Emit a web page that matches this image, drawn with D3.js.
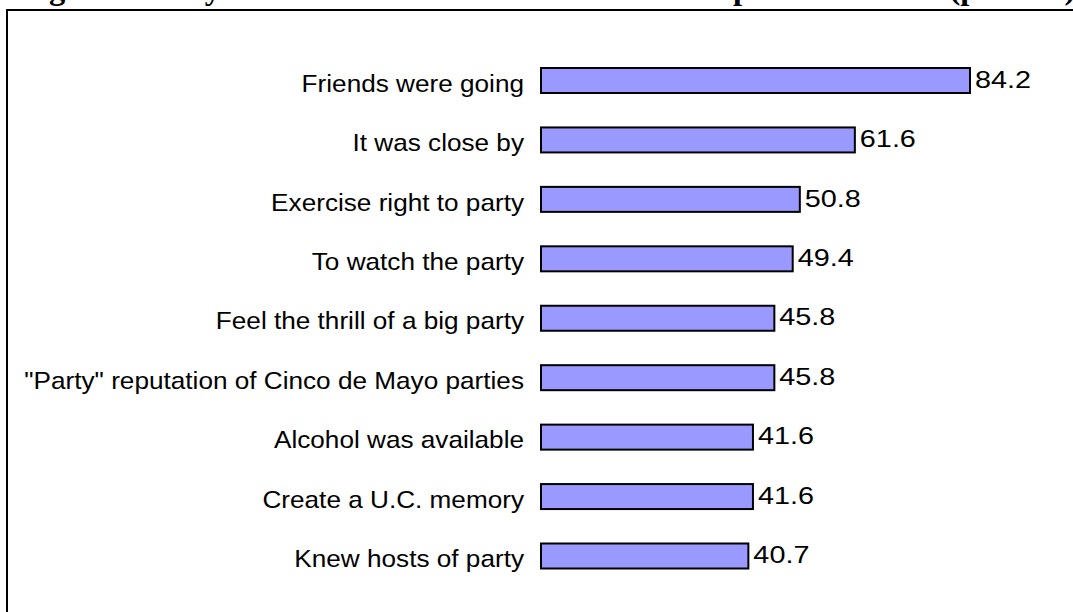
<!DOCTYPE html>
<html>
<head>
<meta charset="utf-8">
<script src="https://cdn.jsdelivr.net/npm/d3@7"></script>
<style>
html,body{margin:0;padding:0;background:#fff;}
svg{display:block;}
</style>
</head>
<body>
<svg id="chart" width="1073" height="612"></svg>
<script>
const titleText = "Figure 3: Why students decided to attend - Most important factors (percent)";
const categories = [
  "Friends were going",
  "It was close by",
  "Exercise right to party",
  "To watch the party",
  "Feel the thrill of a big party",
  "\"Party\" reputation of Cinco de Mayo parties",
  "Alcohol was available",
  "Create a U.C. memory",
  "Knew hosts of party"
];
const values = [84.2, 61.6, 50.8, 49.4, 45.8, 45.8, 41.6, 41.6, 40.7];
const valueLabels = ["84.2", "61.6", "50.8", "49.4", "45.8", "45.8", "41.6", "41.6", "40.7"];

const svg = d3.select("#chart");

// frame
svg.append("rect")
  .attr("x", 7).attr("y", 10)
  .attr("width", 1080).attr("height", 620)
  .attr("fill", "none").attr("stroke", "#000").attr("stroke-width", 2);

// clipped title (only its descenders show above the frame)
svg.append("text")
  .attr("x", 20).attr("y", -1.5)
  .attr("font-family", "'Liberation Serif', 'Times New Roman', serif")
  .attr("font-weight", "bold")
  .attr("font-size", 32.5)
  .attr("fill", "#000")
  .text(titleText);

const x = d3.scaleLinear().domain([0, 100]).range([541, 1050.5]);
const y = d3.scalePoint().domain(categories).range([80.5, 556]);
const barH = 25;

const g = svg.append("g");

g.selectAll("rect.bar").data(categories).join("rect")
  .attr("class", "bar")
  .attr("x", x(0))
  .attr("y", d => y(d) - barH / 2)
  .attr("width", (d, i) => x(values[i]) - x(0))
  .attr("height", barH)
  .attr("fill", "#9999ff")
  .attr("stroke", "#000")
  .attr("stroke-width", 2);

g.selectAll("text.val").data(categories).join("text")
  .attr("class", "val")
  .attr("transform", (d, i) => `translate(${x(values[i]) + 5},${y(d)}) scale(1.2,1)`)
  .attr("x", 0)
  .attr("y", 0)
  .attr("dy", "0.3em")
  .attr("font-family", "'Liberation Sans', Arial, sans-serif")
  .attr("font-size", 24)
  .attr("fill", "#000")
  .text((d, i) => valueLabels[i]);

// category axis
const yAxis = d3.axisLeft(y).tickSize(0).tickPadding(0);
const ax = svg.append("g")
  .attr("transform", "translate(524,3)")
  .call(yAxis);
ax.select(".domain").remove();
ax.selectAll("text")
  .attr("x", 0)
  .attr("transform", "scale(1.09,1)")
  .attr("font-family", "'Liberation Sans', Arial, sans-serif")
  .attr("font-size", 24)
  .attr("fill", "#000");
</script>
</body>
</html>
